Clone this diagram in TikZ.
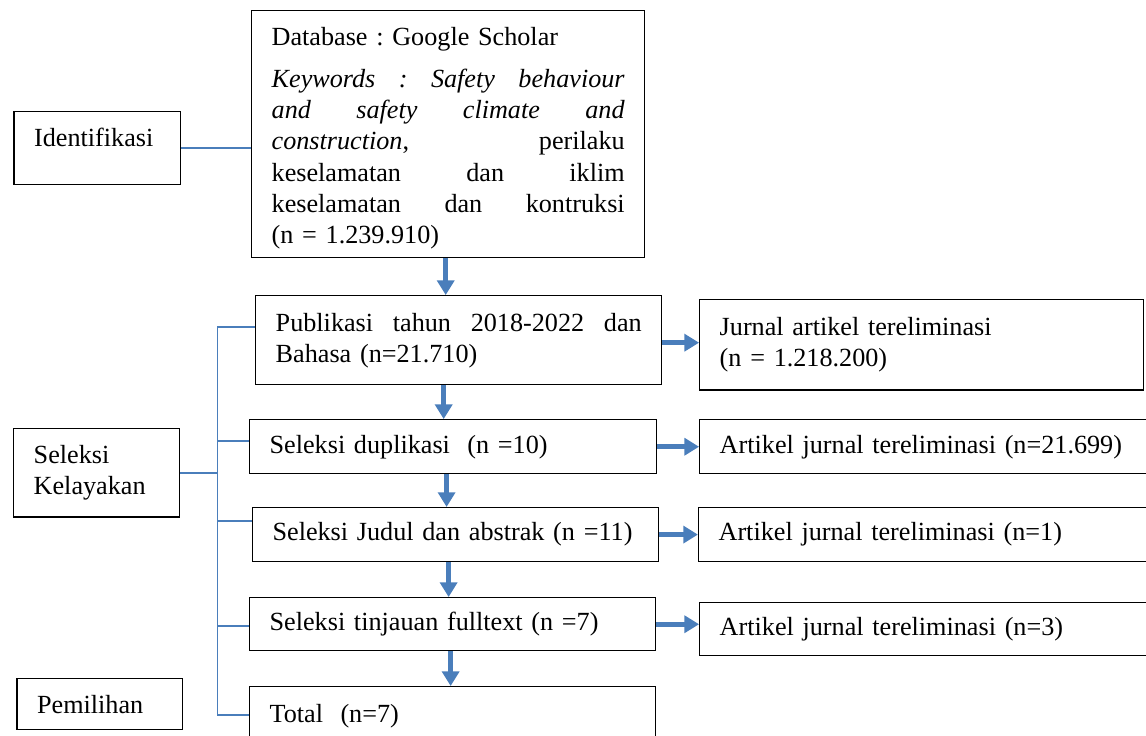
\documentclass[tikz,border=0pt]{standalone}
\usepackage{fontspec}
\setmainfont{Liberation Serif}
\usetikzlibrary{arrows.meta,positioning}
\definecolor{linkblue}{HTML}{4A7EBB}
\newcommand{\jline}[2]{\makebox[#1][s]{\spaceskip=0.25em plus 1fil\relax#2}}

\begin{document}
\begin{tikzpicture}[x=1pt,y=1pt,
    font=\fontsize{11.65}{13.8}\selectfont\frenchspacing,
    box/.style={draw, line width=0.6pt, anchor=north west,
                inner xsep=8.9pt, inner ysep=0pt},
    link/.style={draw=linkblue, line width=0.8pt},
    flow/.style={draw=linkblue, line width=2.2pt, -{Triangle[length=6.5pt,width=7.5pt]}}]
\useasboundingbox (0,0) rectangle (510,-327.1);
\node[box, text width=56.3pt, text height=15.6pt, text depth=16.9pt] (ident) at (6.0,-49.4) {Identifikasi};
\node[box, text width=56.1pt, minimum height=39.2pt] (kel) at (5.8,-190.5) {Seleksi\\Kelayakan};
\node[box, text width=55.8pt, minimum height=22.7pt] (pem) at (7.3,-301.7) {Pemilihan};
\node[box, text width=157.1pt, text height=15.6pt, text depth=94.3pt] (db) at (111.7,-4.45) {Database : Google Scholar\\[5pt]
    \jline{157.1pt}{\textit{Keywords : Safety behaviour}}\\
    \jline{157.1pt}{\textit{and safety climate and}}\\
    \jline{157.1pt}{\textit{construction}, perilaku}\\
    \jline{157.1pt}{keselamatan dan iklim}\\
    \jline{157.1pt}{keselamatan dan kontruksi}\\
    (n = 1.239.910)};
\node[box, text width=162.9pt, minimum height=39.6pt] (pub) at (113.5,-131.3) {\jline{162.9pt}{Publikasi tahun 2018-2022 dan}\\Bahasa (n=21.710)};
\node[box, text width=163.3pt, minimum height=24pt] (dup) at (110.8,-186.5) {Seleksi duplikasi~ (n =10)};
\node[box, text width=162.9pt, minimum height=24pt] (jud) at (112.1,-225.6) {Seleksi Judul dan abstrak (n =11)};
\node[box, text width=162.9pt, minimum height=23.6pt] (full) at (110.8,-265.7) {Seleksi tinjauan fulltext (n =7)};
\node[box, text width=162.9pt, minimum height=26pt] (tot) at (110.8,-305.3) {Total~ (n=7)};
\node[box, text width=179.8pt, minimum height=40.1pt] (jur) at (311.1,-133.1) {Jurnal artikel tereliminasi\\(n = 1.218.200)};
\node[box, text width=186.9pt, minimum height=24pt] (el1) at (311.1,-186.5) {Artikel jurnal tereliminasi (n=21.699)};
\node[box, text width=186.9pt, minimum height=24pt] (el2) at (310.6,-225.6) {Artikel jurnal tereliminasi (n=1)};
\node[box, text width=186.9pt, minimum height=23.6pt] (el3) at (311.1,-267.9) {Artikel jurnal tereliminasi (n=3)};

\draw[link] (ident.east) -- (ident.east -| db.west);
\draw[link] ([yshift=6pt]pub.west) -- ++(-16.7,0) coordinate (s) |- ([yshift=0.4pt]tot.west);
\draw[link] ([yshift=2.7pt]dup.west) -- ([yshift=2.7pt]dup.west -| s);
\draw[link] ([yshift=6.2pt]jud.west) -- ([yshift=6.2pt]jud.west -| s);
\draw[link] ([yshift=-0.7pt]full.west) -- ([yshift=-0.7pt]full.west -| s);
\draw[link] (kel.east) -- (kel.east -| s);

\draw[flow] ([xshift=-1.1pt]db.south) -- ([xshift=-1.1pt]db.south |- pub.north);
\draw[flow] ([xshift=-6.7pt]pub.south) -- ([xshift=-6.7pt]pub.south |- dup.north);
\draw[flow] ([xshift=-2.9pt]dup.south) -- ([xshift=-2.9pt]dup.south |- jud.north);
\draw[flow] ([xshift=-3.1pt]jud.south) -- ([xshift=-3.1pt]jud.south |- full.north);
\draw[flow] ([xshift=-0.9pt]full.south) -- ([xshift=-0.9pt]full.south |- tot.north);
\draw[flow] ([yshift=-1.1pt]pub.east) -- ([yshift=-1.1pt]pub.east -| jur.west);
\draw[flow] (dup.east) -- (dup.east -| el1.west);
\draw[flow] (jud.east) -- (jud.east -| el2.west);
\draw[flow] (full.east) -- (full.east -| el3.west);
\end{tikzpicture}
\end{document}
